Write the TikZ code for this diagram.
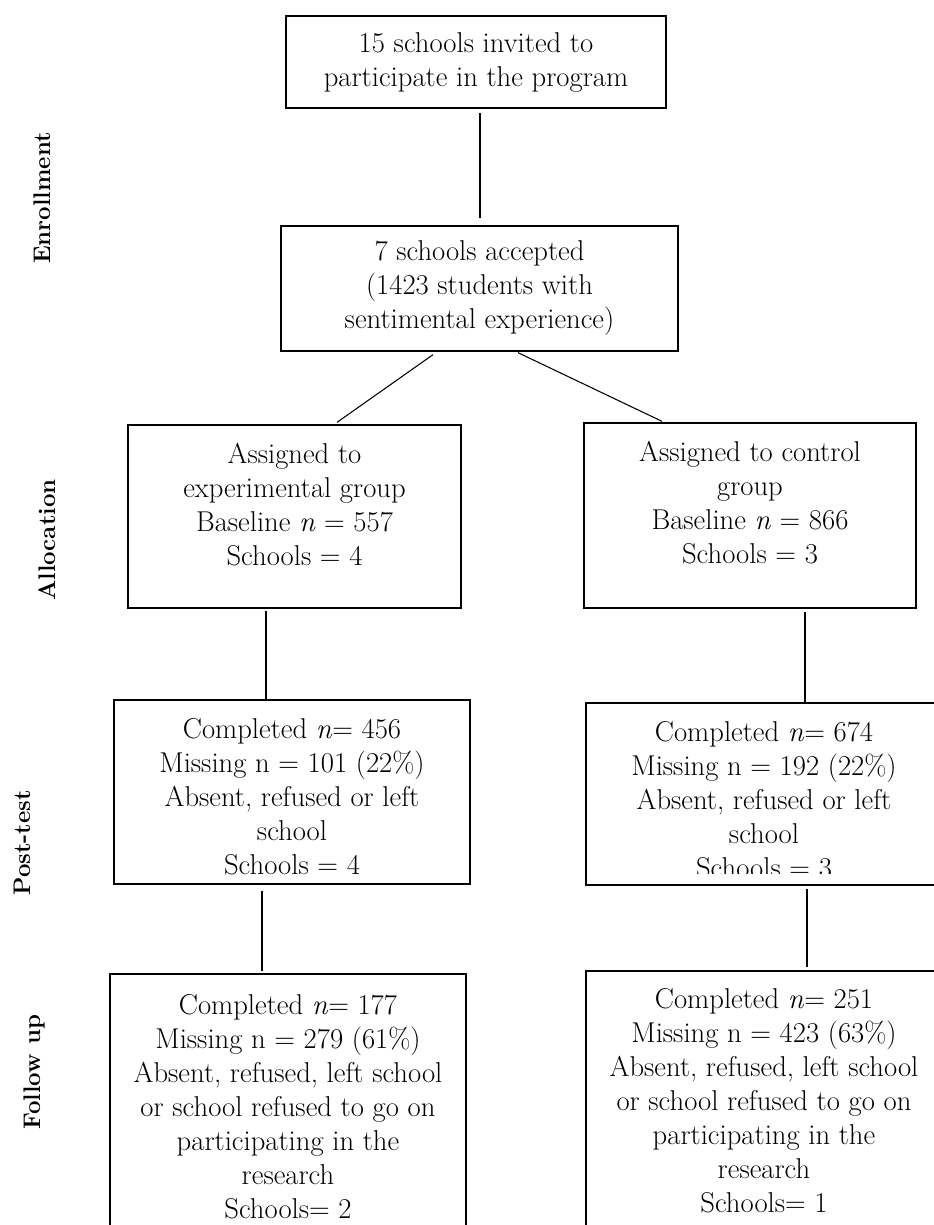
\documentclass[tikz,border=0pt]{standalone}
\usepackage{tikz}
\usetikzlibrary{calc}
\usetikzlibrary{positioning}

\begin{document}
\begin{tikzpicture}[x=0.75pt, y=-0.75pt,
            box/.style={draw, line width=1pt, inner sep=0pt},
            txt/.style={align=center, inner sep=0pt, font=\fontsize{21.5}{25.5}\selectfont},
            phase/.style={rotate=90, inner sep=0pt, font=\fontsize{18}{22}\selectfont\bfseries},
            link/.style={line width=0.8pt}]
            \useasboundingbox (0,0) rectangle (933,1225);

            \draw (476,62) node[box, txt, minimum width=285pt, minimum height=69pt]           (inv) {15 schools invited to\\participate in the program};
            \draw (479.5,288.5) node[box, txt, minimum width=297.75pt, minimum height=93.75pt] (acc) {7 schools accepted\\(1423 students with\\sentimental experience)};
            \draw (294.5,516.5) node[box, minimum width=249.75pt, minimum height=137.25pt]    (exp) {};
            \draw (750,515.5) node[box, minimum width=249pt, minimum height=138.75pt]        (ctrl) {};
            \draw (292,792) node[box, minimum width=267pt, minimum height=138pt]             (postexp) {};
            \draw (764,794) node[box, minimum width=267pt, minimum height=136.5pt]           (postctrl) {};
            \draw (288,1107) node[box, minimum width=267pt, minimum height=199.5pt]          (fuexp) {};
            \draw (764,1105.5) node[box, minimum width=267pt, minimum height=201.75pt]       (fuctrl) {};

            \draw (294.5,505) node[txt]  (exptxt) {Assigned to\\experimental group\\Baseline \textit{n} = 557\\Schools = 4};
            \draw (750,502.5) node[txt]  (ctrltxt) {Assigned to control\\group\\Baseline \textit{n} = 866\\Schools = 3};
            \draw (292,797) node[txt]    (postexptxt) {Completed \textit{n}= 456\\Missing n = 101 (22\%)\\Absent, refused or left\\school\\Schools = 4};
            \begin{scope}
            \clip (586,703) rectangle (942,873);
            \draw (764,800) node[txt]    (postctrltxt) {Completed \textit{n}= 674\\Missing n = 192 (22\%)\\Absent, refused or left\\school\\Schools = 3};
            \end{scope}
            \draw (288,1107) node[txt]   (fuexptxt) {Completed \textit{n}= 177\\Missing n = 279 (61\%)\\Absent, refused, left school\\or school refused to go on\\participating in the\\research\\Schools= 2};
            \draw (764,1101) node[txt]   (fuctrltxt) {Completed \textit{n}= 251\\Missing n = 423 (63\%)\\Absent, refused, left school\\or school refused to go on\\participating in the\\research\\Schools= 1};

            \draw (42,198) node[phase]   (enr) {Enrollment};
            \draw (47,540) node[phase]   (alloc) {Allocation};
            \draw (22,843) node[phase]   (post) {Post-test};
            \draw (34,1072) node[phase]  (follow) {Follow up};

            \draw[link] ($(inv.south)+(4,4)$) -- ($(acc.north)+(0.5,-7)$);
            \draw[link] ($(acc.south)+(-46.5,3)$) -- ($(exp.north)+(42.5,-2)$);
            \draw[link] ($(acc.south)+(38.5,1)$) -- ($(ctrl.north)+(-88,-1)$);
            \draw[link] ($(exp.south)+(-28.5,2)$) -- ($(postexp.north)+(-26,0)$);
            \draw[link] ($(ctrl.south)+(55,3)$) -- ($(postctrl.north)+(41,0)$);
            \draw[link] ($(postexp.south)+(-30,6)$) -- ($(fuexp.north)+(-26,-2)$);
            \draw[link] ($(postctrl.south)+(43,3)$) -- ($(fuctrl.north)+(43,-3)$);

            \end{tikzpicture}
\end{document}
